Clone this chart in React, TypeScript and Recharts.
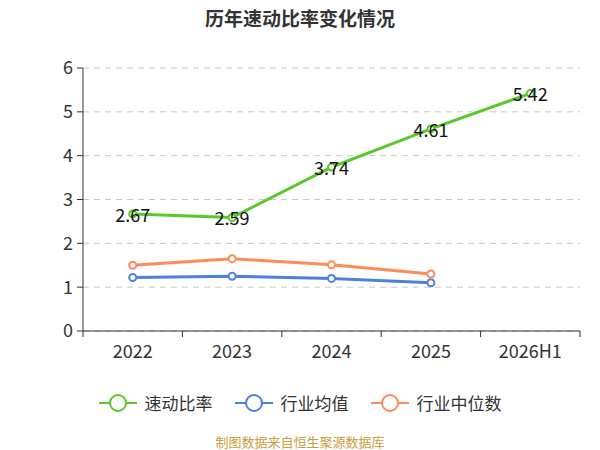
import { CartesianGrid, LabelList, Line, LineChart, XAxis, YAxis } from "recharts";

// 历年速动比率变化情况
const years = ["2022", "2023", "2024", "2025", "2026H1"];
const quickRatio = [2.67, 2.59, 3.74, 4.61, 5.42];
const industryAvg = [1.22, 1.25, 1.2, 1.1, null];
const industryMedian = [1.5, 1.65, 1.51, 1.3, null];
const yTicks = [0, 1, 2, 3, 4, 5, 6];

const GREEN = "#5ac72b";
const BLUE = "#4f7fe0";
const ORANGE = "#fd8c5b";
const FONT = '"Noto Sans CJK SC", "Noto Sans", sans-serif';

const W = 600;
const H = 450;
const MARGIN = { top: 68, right: 20, bottom: 89, left: 43 };
const Y_WIDTH = 40;
const BAND = (W - MARGIN.left - MARGIN.right - Y_WIDTH) / years.length;

// 类目放在区间中心（i + 0.5），刻度线落在区间边界
const data = years.map((y, i) => ({
  x: i + 0.5,
  year: y,
  quick: quickRatio[i],
  avg: industryAvg[i],
  median: industryMedian[i],
}));
const bandCenters = years.map((_, i) => i + 0.5);

const legendItems = [
  { name: "速动比率", color: GREEN },
  { name: "行业均值", color: BLUE },
  { name: "行业中位数", color: ORANGE },
];

const dot = (color: string) => ({ r: 3.5, fill: "#fff", stroke: color, strokeWidth: 2 });

function ValueLabel(props: any) {
  const { x, y, value } = props;
  return (
    <text x={x} y={y} textAnchor="middle" dominantBaseline="central" fontSize={18} fill="#111" fontFamily={FONT}>
      {value.toFixed(2)}
    </text>
  );
}

function BandTick(props: any) {
  const { x, y, payload, index } = props;
  const axisY = y - 18;
  const last = index === years.length - 1;
  return (
    <g>
      <line x1={x - BAND / 2} y1={axisY} x2={x - BAND / 2} y2={axisY + 6} stroke="#333" />
      {last && <line x1={x + BAND / 2} y1={axisY} x2={x + BAND / 2} y2={axisY + 6} stroke="#333" />}
      <text x={x} y={axisY + 19} textAnchor="middle" dominantBaseline="central" fontSize={18} fill="#333" fontFamily={FONT}>
        {years[Math.floor(payload.value)]}
      </text>
    </g>
  );
}

export default function App() {
  return (
    <div style={{ position: "absolute", left: 0, top: 0, width: W, height: H, background: "#fff", fontFamily: FONT }}>
      <div style={{ position: "absolute", top: 4, width: W, textAlign: "center", fontSize: 19, fontWeight: "bold", color: "#333" }}>
        历年速动比率变化情况
      </div>
      <LineChart width={W} height={H} data={data} margin={MARGIN}>
        <CartesianGrid vertical={false} stroke="#c8c8c8" strokeDasharray="6 5" />
        <XAxis
          dataKey="x"
          type="number"
          domain={[0, years.length]}
          ticks={bandCenters}
          height={30}
          stroke="#333"
          tickLine={false}
          tick={<BandTick />}
          tickMargin={12}
          interval={0}
        />
        <YAxis
          domain={[0, 6]}
          ticks={yTicks}
          width={Y_WIDTH}
          stroke="#333"
          tick={{ fill: "#333", fontSize: 18, fontFamily: FONT }}
          tickSize={6}
          tickMargin={4}
        />
        <Line dataKey="avg" stroke={BLUE} strokeWidth={3} dot={dot(BLUE)} isAnimationActive={false} />
        <Line dataKey="median" stroke={ORANGE} strokeWidth={3} dot={dot(ORANGE)} isAnimationActive={false} />
        <Line dataKey="quick" stroke={GREEN} strokeWidth={3} dot={dot(GREEN)} isAnimationActive={false}>
          <LabelList dataKey="quick" content={<ValueLabel />} />
        </Line>
      </LineChart>
      <div style={{ position: "absolute", top: 390, width: W, display: "flex", justifyContent: "center", gap: 22 }}>
        {legendItems.map((it) => (
          <div key={it.name} style={{ display: "flex", alignItems: "center", gap: 8, fontSize: 17, color: "#333" }}>
            <svg width={38} height={20}>
              <line x1={0} y1={10} x2={38} y2={10} stroke={it.color} strokeWidth={2} />
              <circle cx={19} cy={10} r={8} fill="#fff" stroke={it.color} strokeWidth={2} />
            </svg>
            <span>{it.name}</span>
          </div>
        ))}
      </div>
      <div style={{ position: "absolute", top: 432, width: W, textAlign: "center", fontSize: 13, color: "#c9a042" }}>
        制图数据来自恒生聚源数据库
      </div>
    </div>
  );
}
